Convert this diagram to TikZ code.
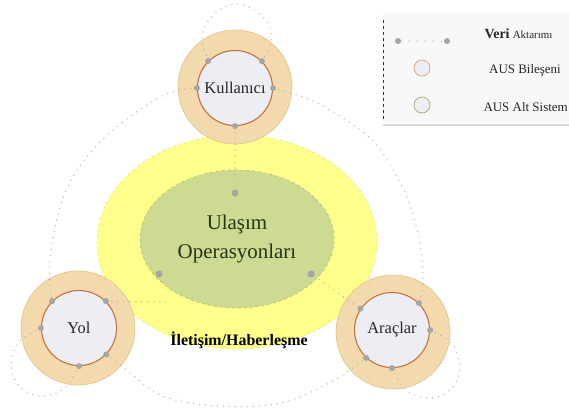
\documentclass[tikz,border=0pt]{standalone}
\usepackage{fontspec}
\setmainfont{Liberation Serif}
\usetikzlibrary{shapes.geometric}
\definecolor{ringtan}{RGB}{242,218,172}
\definecolor{ringedge}{RGB}{228,200,150}
\definecolor{innerfill}{RGB}{237,238,243}
\definecolor{inneredge}{RGB}{200,112,62}
\definecolor{yel}{RGB}{255,255,140}
\definecolor{yeledge}{RGB}{230,230,110}
\definecolor{grn}{RGB}{205,218,146}
\definecolor{grnedge}{RGB}{175,190,120}
\definecolor{dotgray}{RGB}{165,165,165}
\definecolor{linegray}{RGB}{175,175,175}
\definecolor{txtgreen}{RGB}{40,50,22}
\definecolor{legbg}{RGB}{248,248,248}
\tikzset{
  outerring/.style={circle, fill=ringtan, draw=ringedge, line width=0.8bp, minimum size=114bp, inner sep=0pt},
  innercirc/.style={circle, fill=innerfill, draw=inneredge, line width=1.1bp, minimum size=75bp, inner sep=0pt, font=\fontsize{16.5}{18}\selectfont, text=black!85},
  flow/.style={draw=linegray, line width=1.4bp, line cap=round, dash pattern=on 0pt off 6bp},
  gdot/.style={circle, fill=dotgray, inner sep=0pt, minimum size=6bp},
  legtext/.style={font=\fontsize{13}{15}\selectfont, text=black!85}
}
\begin{document}
\begin{tikzpicture}[x=1bp, y=-1bp]
\useasboundingbox (0,0) rectangle (569,414);

% legend
\fill[legbg] (383,12) rectangle (569,125);
\draw[black!80, dashed, line width=0.7bp] (383,20) -- (383,120);
\draw[black!15, line width=1.5bp] (383,125) -- (569,125);
\node[gdot] (l1) at (398,41) {};
\node[gdot] (l2) at (447,41) {};
\draw[flow, line width=1.2bp, dash pattern=on 0pt off 8bp] (l1) -- (l2);
\node[legtext, anchor=west] (lt1) at (481,34) {\textbf{\fontsize{14}{15}\selectfont Veri} {\fontsize{11}{12}\selectfont Aktarımı}};
\node[circle, draw=inneredge!70, fill=innerfill, line width=0.7bp, minimum size=16bp, inner sep=0pt] (lc1) at (422,68) {};
\node[legtext] (lt2) at (525,70) {AUS Bileşeni};
\node[circle, draw=grnedge!90!black, fill=innerfill, line width=0.7bp, minimum size=16bp, inner sep=0pt] (lc2) at (422,105) {};
\node[legtext, anchor=west] (lt3) at (480,107) {AUS Alt Sistem};

% central ellipses
\node[ellipse, fill=yel, draw=yeledge, line width=0.6bp, dashed, minimum width=280bp, minimum height=214bp] (yel) at (237,242) {};
\node[ellipse, fill=grn, draw=grnedge, line width=0.6bp, dashed, minimum width=194bp, minimum height=138bp, align=center, text=txtgreen, font=\fontsize{21}{30}\selectfont] (grn) at (237,239) {Ulaşım\\Operasyonları};
\node[font=\bfseries\fontsize{16}{18}\selectfont, text=black] (ilet) at (239,340) {İletişim/Haberleşme};

% green ellipse dots
\node[gdot, minimum size=7bp] (gT) at (235,193) {};
\node[gdot, minimum size=7bp] (gL) at (159,274) {};
\node[gdot, minimum size=7bp] (gR) at (311,274) {};
\coordinate (yend) at (166,302);

% components
\node[outerring] (kout) at (235,87) {};
\node[innercirc] (kin) at (235,88) {Kullanıcı};
\node[outerring] (yout) at (78,328) {};
\node[innercirc] (yin) at (79,328) {Yol};
\node[outerring] (aout) at (393,332) {};
\node[innercirc] (ain) at (392,330) {Araçlar};

% connectors
\draw[flow] (kin.270) -- (gT);
\draw[flow] (yin.45) -- (yend);
\draw[flow] (gR) -- (ain.146);
\draw[flow] plot[smooth, tension=0.6] coordinates {(kin.180) (160,97) (100,142) (65,193) (50,260) (yin.135)};
\draw[flow] plot[smooth, tension=0.6] coordinates {(kin.0) (315,102) (367,135) (390,165) (408,200) (420,243) (423,280) (ain.45)};
\draw[flow] plot[smooth, tension=0.6] coordinates {(yin.-44) (123,367) (163,396) (220,406) (280,403) (333,381) (ain.-133)};
\draw[flow] plot[smooth, tension=0.6] coordinates {(kin.135) (202,36) (214,14) (237,4) (260,14) (272,36) (kin.45)};
\draw[flow] plot[smooth, tension=0.6] coordinates {(yin.180) (19,342) (11,366) (20,387) (41,396) (65,388) (yin.270)};
\draw[flow] plot[smooth, tension=0.6] coordinates {(ain.0) (452,344) (460,368) (451,389) (430,398) (406,390) (ain.270)};

% dots on inner circles
\foreach \n/\angs in {kin/{135,45,180,0,270}, yin/{135,45,180,-44,270}, ain/{146,45,0,-133,270}}{
  \foreach \a in \angs { \fill[dotgray] (\n.\a) circle (3bp); }
}
\end{tikzpicture}
\end{document}
